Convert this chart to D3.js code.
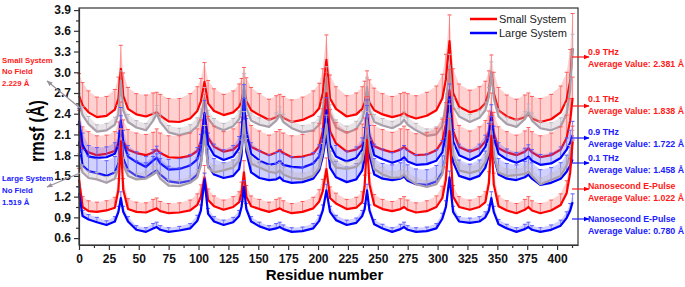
<!DOCTYPE html>
<html>
<head>
<meta charset="utf-8">
<script src="https://cdn.jsdelivr.net/npm/d3@7"></script>
<style>
  body { margin: 0; background: #fff; }
  svg text { font-family: Arial, "Liberation Sans", sans-serif; }
</style>
</head>
<body>
<div id="wrapper"></div>
<script>
const residues = [
  0, 3, 8, 15, 23, 30, 33, 35, 37, 41, 48, 56, 62, 65, 68, 75, 84, 93, 99, 102, 105,
  108, 113, 121, 129, 134, 136, 138, 140, 144, 151, 159, 165, 168, 171, 178, 187, 196, 201, 204, 207,
  210, 215, 224, 232, 237, 239, 241, 243, 247, 254, 262, 269, 272, 275, 282, 291, 299, 304, 307, 310,
  313, 318, 327, 335, 340, 343, 345, 347, 351, 358, 366, 373, 376, 379, 386, 395, 403, 408, 411, 413,
];

// small system, 0.9 THz
const small09 = [
  2.66, 2.52, 2.42, 2.35, 2.37, 2.46, 2.62, 3.05, 2.66, 2.47, 2.39, 2.36, 2.40, 2.42, 2.37, 2.29, 2.28, 2.33, 2.44, 2.58, 2.86,
  2.55, 2.44, 2.38, 2.42, 2.50, 2.58, 2.75, 2.58, 2.45, 2.38, 2.31, 2.35, 2.38, 2.34, 2.28, 2.31, 2.38, 2.48, 2.70, 3.18,
  2.62, 2.47, 2.36, 2.39, 2.47, 2.56, 2.72, 2.56, 2.45, 2.39, 2.35, 2.38, 2.41, 2.37, 2.33, 2.37, 2.45, 2.62, 2.90, 3.45,
  2.70, 2.50, 2.42, 2.46, 2.55, 2.72, 3.00, 2.70, 2.45, 2.36, 2.31, 2.35, 2.39, 2.33, 2.28, 2.32, 2.42, 2.60, 2.88, 3.35,
];
const small09Err = [
  0.32, 0.33, 0.31, 0.29, 0.28, 0.29, 0.31, 0.34, 0.33, 0.31, 0.30, 0.31, 0.30, 0.29, 0.31, 0.33, 0.34, 0.36, 0.35, 0.33, 0.28,
  0.33, 0.32, 0.30, 0.31, 0.33, 0.33, 0.32, 0.34, 0.33, 0.31, 0.30, 0.31, 0.30, 0.31, 0.32, 0.33, 0.35, 0.36, 0.35, 0.36,
  0.34, 0.32, 0.30, 0.31, 0.32, 0.31, 0.30, 0.33, 0.32, 0.30, 0.30, 0.31, 0.30, 0.32, 0.33, 0.34, 0.35, 0.35, 0.36, 0.38,
  0.35, 0.33, 0.32, 0.33, 0.32, 0.30, 0.25, 0.30, 0.33, 0.31, 0.30, 0.32, 0.31, 0.32, 0.34, 0.36, 0.38, 0.40, 0.45, 0.50,
];

// small system, no field
const smallNoField = [
  2.55, 2.38, 2.25, 2.14, 2.16, 2.24, 2.40, 2.88, 2.45, 2.28, 2.20, 2.16, 2.30, 2.40, 2.28, 2.13, 2.09, 2.13, 2.22, 2.35, 2.64,
  2.33, 2.22, 2.16, 2.22, 2.32, 2.45, 2.84, 2.48, 2.30, 2.24, 2.21, 2.30, 2.38, 2.28, 2.19, 2.13, 2.16, 2.24, 2.45, 2.93,
  2.40, 2.20, 2.12, 2.18, 2.31, 2.45, 2.79, 2.45, 2.28, 2.23, 2.19, 2.25, 2.31, 2.24, 2.16, 2.08, 2.10, 2.22, 2.55, 3.10,
  2.50, 2.36, 2.28, 2.34, 2.45, 2.65, 3.00, 2.62, 2.36, 2.25, 2.21, 2.32, 2.42, 2.30, 2.19, 2.16, 2.22, 2.40, 2.75, 3.35,
];
const smallNoFieldErr = [
  0.14, 0.12, 0.11, 0.10, 0.10, 0.11, 0.12, 0.14, 0.12, 0.11, 0.10, 0.10, 0.11, 0.12, 0.11, 0.10, 0.10, 0.11, 0.12, 0.12, 0.14,
  0.12, 0.11, 0.10, 0.11, 0.12, 0.12, 0.14, 0.12, 0.11, 0.10, 0.10, 0.11, 0.12, 0.11, 0.10, 0.10, 0.11, 0.12, 0.13, 0.15,
  0.13, 0.11, 0.10, 0.11, 0.12, 0.12, 0.13, 0.12, 0.11, 0.10, 0.10, 0.11, 0.12, 0.11, 0.10, 0.10, 0.11, 0.12, 0.14, 0.16,
  0.13, 0.12, 0.11, 0.11, 0.12, 0.13, 0.15, 0.12, 0.11, 0.10, 0.10, 0.11, 0.12, 0.11, 0.10, 0.11, 0.12, 0.14, 0.17, 0.20,
];

// small system, 0.1 THz
const small01 = [
  2.15, 1.90, 1.84, 1.80, 1.82, 1.86, 1.98, 2.25, 2.00, 1.88, 1.83, 1.80, 1.84, 1.88, 1.83, 1.77, 1.76, 1.79, 1.86, 2.00, 2.40,
  2.05, 1.92, 1.85, 1.88, 1.96, 2.05, 2.26, 2.05, 1.92, 1.86, 1.80, 1.84, 1.87, 1.83, 1.77, 1.78, 1.82, 1.93, 2.15, 2.70,
  2.15, 1.97, 1.85, 1.88, 1.95, 2.05, 2.35, 2.08, 1.93, 1.88, 1.84, 1.88, 1.92, 1.87, 1.80, 1.81, 1.87, 2.00, 2.25, 2.74,
  2.15, 1.92, 1.85, 1.90, 2.00, 2.15, 2.42, 2.12, 1.90, 1.84, 1.80, 1.85, 1.90, 1.84, 1.77, 1.80, 1.88, 2.05, 2.30, 2.63,
];
const small01Err = [
  0.30, 0.31, 0.30, 0.28, 0.27, 0.28, 0.30, 0.32, 0.31, 0.29, 0.29, 0.30, 0.29, 0.30, 0.29, 0.31, 0.32, 0.33, 0.32, 0.31, 0.28,
  0.31, 0.30, 0.29, 0.30, 0.31, 0.30, 0.31, 0.32, 0.31, 0.29, 0.29, 0.30, 0.30, 0.29, 0.31, 0.32, 0.33, 0.33, 0.32, 0.30,
  0.31, 0.30, 0.29, 0.30, 0.30, 0.29, 0.30, 0.31, 0.30, 0.29, 0.29, 0.30, 0.30, 0.30, 0.31, 0.32, 0.32, 0.32, 0.31, 0.30,
  0.32, 0.31, 0.30, 0.31, 0.30, 0.29, 0.28, 0.30, 0.31, 0.30, 0.29, 0.30, 0.30, 0.30, 0.31, 0.32, 0.33, 0.33, 0.32, 0.30,
];

// large system, 0.9 THz
const large09 = [
  2.30, 1.95, 1.78, 1.76, 1.77, 1.82, 1.95, 2.30, 1.98, 1.78, 1.70, 1.63, 1.72, 1.76, 1.68, 1.59, 1.60, 1.65, 1.74, 1.92, 2.41,
  1.95, 1.80, 1.73, 1.78, 1.90, 2.10, 2.62, 2.15, 1.82, 1.72, 1.66, 1.68, 1.71, 1.66, 1.63, 1.62, 1.68, 1.78, 2.00, 2.45,
  1.95, 1.78, 1.71, 1.76, 1.88, 2.02, 2.41, 2.05, 1.80, 1.74, 1.69, 1.73, 1.77, 1.71, 1.66, 1.67, 1.72, 1.84, 2.10, 2.64,
  2.00, 1.80, 1.73, 1.80, 1.92, 2.08, 2.34, 2.05, 1.82, 1.74, 1.69, 1.74, 1.78, 1.72, 1.66, 1.68, 1.76, 1.88, 1.98, 2.09,
];
const large09Err = [
  0.18, 0.17, 0.16, 0.15, 0.15, 0.16, 0.17, 0.19, 0.18, 0.16, 0.15, 0.15, 0.16, 0.17, 0.16, 0.15, 0.15, 0.16, 0.17, 0.18, 0.18,
  0.17, 0.16, 0.15, 0.16, 0.17, 0.18, 0.20, 0.18, 0.16, 0.15, 0.15, 0.16, 0.17, 0.16, 0.15, 0.15, 0.16, 0.17, 0.18, 0.18,
  0.17, 0.16, 0.15, 0.16, 0.17, 0.18, 0.19, 0.18, 0.16, 0.15, 0.15, 0.16, 0.17, 0.16, 0.15, 0.15, 0.16, 0.17, 0.18, 0.19,
  0.17, 0.16, 0.15, 0.16, 0.17, 0.18, 0.19, 0.17, 0.16, 0.15, 0.15, 0.16, 0.17, 0.16, 0.15, 0.15, 0.16, 0.17, 0.18, 0.20,
];

// large system, 0.1 THz
const large01 = [
  2.00, 1.65, 1.57, 1.54, 1.50, 1.55, 1.68, 2.10, 1.75, 1.58, 1.50, 1.47, 1.55, 1.58, 1.52, 1.42, 1.40, 1.43, 1.52, 1.70, 2.15,
  1.65, 1.52, 1.47, 1.50, 1.60, 1.80, 2.35, 1.85, 1.55, 1.47, 1.44, 1.45, 1.48, 1.43, 1.40, 1.41, 1.46, 1.58, 1.78, 2.10,
  1.62, 1.48, 1.41, 1.45, 1.58, 1.75, 2.25, 1.80, 1.52, 1.46, 1.44, 1.46, 1.49, 1.43, 1.38, 1.37, 1.42, 1.55, 1.80, 2.35,
  1.70, 1.50, 1.45, 1.50, 1.62, 1.80, 2.10, 1.78, 1.52, 1.46, 1.44, 1.48, 1.52, 1.46, 1.37, 1.40, 1.46, 1.56, 1.65, 1.74,
];
const large01Err = [
  0.25, 0.23, 0.22, 0.21, 0.22, 0.23, 0.25, 0.27, 0.25, 0.23, 0.22, 0.22, 0.23, 0.24, 0.23, 0.22, 0.22, 0.23, 0.24, 0.25, 0.25,
  0.24, 0.23, 0.22, 0.23, 0.24, 0.25, 0.27, 0.25, 0.23, 0.22, 0.22, 0.23, 0.24, 0.23, 0.22, 0.22, 0.23, 0.24, 0.25, 0.25,
  0.24, 0.23, 0.22, 0.23, 0.24, 0.25, 0.27, 0.25, 0.23, 0.22, 0.22, 0.23, 0.24, 0.23, 0.22, 0.22, 0.23, 0.24, 0.25, 0.26,
  0.24, 0.23, 0.22, 0.23, 0.24, 0.25, 0.26, 0.25, 0.23, 0.22, 0.22, 0.23, 0.24, 0.23, 0.22, 0.22, 0.23, 0.24, 0.26, 0.28,
];

// large system, no field
const largeNoField = [
  1.70, 1.55, 1.47, 1.45, 1.40, 1.46, 1.60, 2.05, 1.65, 1.50, 1.45, 1.46, 1.52, 1.56, 1.46, 1.36, 1.35, 1.40, 1.48, 1.65, 2.10,
  1.62, 1.55, 1.58, 1.62, 1.72, 1.90, 2.30, 1.92, 1.68, 1.62, 1.56, 1.54, 1.58, 1.52, 1.47, 1.45, 1.50, 1.62, 1.85, 2.25,
  1.75, 1.62, 1.60, 1.63, 1.72, 1.90, 2.30, 1.90, 1.60, 1.52, 1.47, 1.48, 1.52, 1.46, 1.38, 1.34, 1.38, 1.52, 1.78, 2.40,
  1.80, 1.58, 1.54, 1.58, 1.70, 1.85, 2.15, 1.80, 1.55, 1.50, 1.51, 1.53, 1.56, 1.50, 1.38, 1.44, 1.50, 1.65, 1.80, 2.00,
];
const largeNoFieldErr = [
  0.12, 0.11, 0.10, 0.10, 0.09, 0.10, 0.11, 0.13, 0.11, 0.10, 0.09, 0.10, 0.11, 0.11, 0.10, 0.09, 0.09, 0.10, 0.11, 0.12, 0.13,
  0.11, 0.10, 0.10, 0.10, 0.11, 0.12, 0.13, 0.12, 0.10, 0.10, 0.09, 0.10, 0.11, 0.10, 0.09, 0.09, 0.10, 0.11, 0.12, 0.13,
  0.12, 0.11, 0.10, 0.10, 0.11, 0.12, 0.13, 0.12, 0.10, 0.10, 0.09, 0.10, 0.11, 0.10, 0.09, 0.09, 0.10, 0.11, 0.12, 0.14,
  0.12, 0.11, 0.10, 0.10, 0.11, 0.12, 0.13, 0.11, 0.10, 0.10, 0.09, 0.10, 0.11, 0.10, 0.09, 0.10, 0.11, 0.12, 0.14, 0.16,
];

// small system, nanosecond E-pulse
const smallPulse = [
  1.45, 1.05, 0.99, 0.98, 1.00, 1.04, 1.30, 2.00, 1.30, 1.02, 0.98, 0.97, 1.01, 1.03, 0.99, 0.96, 0.97, 1.00, 1.08, 1.20, 1.48,
  1.15, 1.06, 1.01, 1.05, 1.12, 1.25, 1.55, 1.20, 1.06, 1.02, 0.98, 1.01, 1.03, 1.00, 0.96, 0.98, 1.03, 1.13, 1.28, 1.60,
  1.18, 1.10, 1.02, 1.04, 1.12, 1.35, 2.02, 1.38, 1.08, 1.02, 0.99, 1.02, 1.05, 1.01, 0.97, 0.99, 1.05, 1.18, 1.45, 2.15,
  1.20, 1.05, 1.01, 1.05, 1.12, 1.40, 2.08, 1.38, 1.06, 1.00, 0.96, 1.01, 1.05, 1.00, 0.96, 1.00, 1.08, 1.25, 1.55, 2.00,
];
const smallPulseErr = [
  0.16, 0.15, 0.15, 0.14, 0.14, 0.15, 0.16, 0.18, 0.16, 0.15, 0.14, 0.14, 0.15, 0.15, 0.14, 0.14, 0.14, 0.15, 0.16, 0.17, 0.17,
  0.16, 0.15, 0.14, 0.15, 0.15, 0.16, 0.17, 0.16, 0.15, 0.14, 0.14, 0.15, 0.15, 0.14, 0.14, 0.15, 0.16, 0.17, 0.17, 0.16,
  0.16, 0.15, 0.14, 0.15, 0.15, 0.16, 0.17, 0.16, 0.15, 0.14, 0.14, 0.15, 0.15, 0.14, 0.14, 0.15, 0.16, 0.17, 0.18, 0.18,
  0.16, 0.15, 0.14, 0.15, 0.15, 0.16, 0.17, 0.16, 0.15, 0.14, 0.14, 0.15, 0.15, 0.14, 0.14, 0.15, 0.16, 0.18, 0.20, 0.22,
];

// large system, nanosecond E-pulse
const largePulse = [
  1.25, 0.92, 0.87, 0.83, 0.79, 0.84, 0.98, 1.18, 0.98, 0.84, 0.72, 0.69, 0.74, 0.76, 0.72, 0.69, 0.71, 0.74, 0.85, 1.00, 1.45,
  0.95, 0.84, 0.79, 0.83, 0.92, 1.05, 1.34, 1.02, 0.84, 0.77, 0.72, 0.74, 0.76, 0.73, 0.69, 0.70, 0.74, 0.85, 1.00, 1.29,
  0.98, 0.86, 0.79, 0.82, 0.92, 1.02, 1.29, 1.00, 0.80, 0.74, 0.69, 0.73, 0.76, 0.72, 0.69, 0.70, 0.74, 0.88, 1.05, 1.48,
  0.98, 0.84, 0.82, 0.84, 0.90, 1.00, 1.18, 0.98, 0.80, 0.74, 0.69, 0.73, 0.76, 0.72, 0.69, 0.72, 0.78, 0.89, 1.00, 1.12,
];
const largePulseErr = [
  0.09, 0.08, 0.07, 0.07, 0.06, 0.07, 0.08, 0.09, 0.08, 0.07, 0.06, 0.06, 0.07, 0.07, 0.06, 0.06, 0.06, 0.07, 0.08, 0.08, 0.09,
  0.08, 0.07, 0.07, 0.07, 0.08, 0.08, 0.09, 0.08, 0.07, 0.06, 0.06, 0.07, 0.07, 0.06, 0.06, 0.06, 0.07, 0.08, 0.08, 0.09,
  0.08, 0.07, 0.07, 0.07, 0.08, 0.08, 0.09, 0.08, 0.07, 0.06, 0.06, 0.07, 0.07, 0.06, 0.06, 0.06, 0.07, 0.08, 0.09, 0.09,
  0.08, 0.07, 0.07, 0.07, 0.08, 0.08, 0.09, 0.08, 0.07, 0.06, 0.06, 0.07, 0.07, 0.06, 0.06, 0.07, 0.08, 0.09, 0.10, 0.12,
];

// tick values
const xTickValues = d3.range(0, 401, 25);
const yTickLabels = ["0.6", "0.9", "1.2", "1.5", "1.8", "2.1", "2.4", "2.7", "3.0", "3.3", "3.6", "3.9"];

// legend and annotations
const legendLabels = ["Small System", "Large System"];
const leftNotes = [
  ["Small System", "No Field", "2.229 Å"],
  ["Large System", "No Field", "1.519 Å"],
];
const rightNotes = [
  ["0.9 THz", "Average Value: 2.381 Å"],
  ["0.1 THz", "Average Value: 1.838 Å"],
  ["0.9 THz", "Average Value: 1.722 Å"],
  ["0.1 THz", "Average Value: 1.458 Å"],
  ["Nanosecond E-Pulse", "Average Value: 1.022 Å"],
  ["Nanosecond E-Pulse", "Average Value: 0.780 Å"],
];

function drawChart() {
  const RED = "#ff0000";
  const BLUE = "#0000ff";
  const GRAY = "#a99fab";

  // 1. Dimensions

  const dimensions = {
    width: 685,
    height: 287,
    margin: { top: 8, right: 107, bottom: 42, left: 79 },
  };
  dimensions.boundedWidth = dimensions.width - dimensions.margin.left - dimensions.margin.right;
  dimensions.boundedHeight = dimensions.height - dimensions.margin.top - dimensions.margin.bottom;

  // 2. Canvas

  const wrapper = d3.select("#wrapper")
    .append("svg")
      .attr("width", dimensions.width)
      .attr("height", dimensions.height);

  const defs = wrapper.append("defs");
  [["red", RED], ["blue", BLUE], ["gray", "#9a909c"]].forEach(([id, c]) => {
    defs.append("marker")
        .attr("id", "arrow-" + id)
        .attr("viewBox", "0 0 10 10")
        .attr("refX", 9)
        .attr("refY", 5)
        .attr("markerWidth", 5)
        .attr("markerHeight", 5)
        .attr("orient", "auto")
      .append("path")
        .attr("d", "M0,1 L10,5 L0,9 Z")
        .attr("fill", c);
  });

  const bounds = wrapper.append("g")
      .attr("transform", `translate(${dimensions.margin.left}, ${dimensions.margin.top})`);

  // 3. Scales

  const xScale = d3.scaleLinear()
      .domain([0, 417.5])
      .range([0, dimensions.boundedWidth]);

  const yScale = d3.scaleLinear()
      .domain([0.5, 3.93])
      .range([dimensions.boundedHeight, 0]);

  // 4. Series (drawn bottom to top in this order)

  const seriesList = [
    { values: small09, errors: small09Err, line: RED, bar: "#ff5a5a", band: 0.28 },
    { values: smallNoField, errors: smallNoFieldErr, line: GRAY, bar: "#bdb3bd", band: 0.35 },
    { values: small01, errors: small01Err, line: RED, bar: "#ff5a5a", band: 0.28 },
    { values: large09, errors: large09Err, line: BLUE, bar: "#5a5aff", band: 0.28 },
    { values: large01, errors: large01Err, line: BLUE, bar: "#5a5aff", band: 0.28 },
    { values: largeNoField, errors: largeNoFieldErr, line: GRAY, bar: "#bdb3bd", band: 0.35 },
    { values: smallPulse, errors: smallPulseErr, line: RED, bar: "#ff5a5a", band: 0.28 },
    { values: largePulse, errors: largePulseErr, line: BLUE, bar: "#5a5aff", band: 0.28 },
  ];

  const lineGenerator = d3.line()
      .x(d => xScale(d.r))
      .y(d => yScale(d.v));

  const bandGenerator = d3.area()
      .x(d => xScale(d.r))
      .y0(d => yScale(d.v))
      .y1(d => yScale(d.v + d.e));

  seriesList.forEach(s => {
    const points = residues.map((r, i) => ({ r, v: s.values[i], e: s.errors[i] }));
    const g = bounds.append("g");

    g.append("path")
        .datum(points)
        .attr("d", bandGenerator)
        .attr("fill", s.bar)
        .attr("fill-opacity", s.band);

    g.selectAll(".err")
      .data(points)
      .join("line")
        .attr("class", "err")
        .attr("x1", d => xScale(d.r))
        .attr("x2", d => xScale(d.r))
        .attr("y1", d => yScale(d.v))
        .attr("y2", d => yScale(d.v + d.e))
        .attr("stroke", s.bar)
        .attr("stroke-opacity", 0.7)
        .attr("stroke-width", 1);

    g.selectAll(".cap")
      .data(points)
      .join("line")
        .attr("class", "cap")
        .attr("x1", d => xScale(d.r) - 2)
        .attr("x2", d => xScale(d.r) + 2)
        .attr("y1", d => yScale(d.v + d.e))
        .attr("y2", d => yScale(d.v + d.e))
        .attr("stroke", s.bar)
        .attr("stroke-width", 1);

    g.append("path")
        .datum(points)
        .attr("d", lineGenerator)
        .attr("fill", "none")
        .attr("stroke", s.line)
        .attr("stroke-width", 2.2)
        .attr("stroke-linejoin", "round");
  });

  // 5. Axes and frame

  bounds.append("rect")
      .attr("width", dimensions.boundedWidth)
      .attr("height", dimensions.boundedHeight)
      .attr("fill", "none")
      .attr("stroke", "#333")
      .attr("stroke-width", 1.2);

  const xAxis = bounds.append("g")
      .attr("transform", `translate(0, ${dimensions.boundedHeight})`)
      .call(d3.axisBottom(xScale).tickValues(xTickValues).tickSize(5).tickPadding(4).tickSizeOuter(0));

  bounds.append("g")
      .attr("transform", `translate(0, ${dimensions.boundedHeight})`)
      .call(d3.axisBottom(xScale).tickValues(xTickValues.map(d => d + 12.5)).tickSize(3).tickFormat("").tickSizeOuter(0))
      .call(g => g.select(".domain").remove());

  const yTickValues = yTickLabels.map(Number);
  const yAxis = bounds.append("g")
      .call(d3.axisLeft(yScale).tickValues(yTickValues).tickSize(5).tickPadding(3)
        .tickFormat((d, i) => yTickLabels[i]).tickSizeOuter(0));

  bounds.append("g")
      .call(d3.axisLeft(yScale).tickValues(yTickValues.slice(0, -1).map(d => d + 0.15)).tickSize(3).tickFormat("").tickSizeOuter(0))
      .call(g => g.select(".domain").remove());

  bounds.selectAll(".domain, .tick line").attr("stroke", "#333").attr("stroke-width", 1.2);

  [xAxis, yAxis].forEach(a => a.selectAll("text")
      .attr("font-size", 12)
      .attr("font-weight", "bold")
      .attr("fill", "#111"));

  bounds.append("text")
      .attr("x", dimensions.boundedWidth / 2 - 4)
      .attr("y", dimensions.boundedHeight + 35)
      .attr("text-anchor", "middle")
      .attr("font-size", 15)
      .attr("font-weight", "bold")
      .text("Residue number");

  wrapper.append("text")
      .attr("transform", "translate(44, 131) rotate(-90)")
      .attr("text-anchor", "middle")
      .attr("font-size", 21)
      .attr("font-weight", "bold")
      .attr("textLength", 62)
      .attr("lengthAdjust", "spacingAndGlyphs")
      .text("rmsf (Å)");

  // 6. Legend

  const legend = wrapper.append("g").attr("transform", "translate(470, 19)");
  legendLabels.forEach((label, i) => {
    const row = legend.append("g").attr("transform", `translate(0, ${i * 14})`);
    row.append("line")
        .attr("x2", 27)
        .attr("stroke", i === 0 ? RED : BLUE)
        .attr("stroke-width", 2.5);
    row.append("text")
        .attr("x", 29)
        .attr("dy", "0.35em")
        .attr("font-size", 11)
        .attr("fill", "#222")
        .text(label);
  });

  // 7. Annotations

  const leftLayout = [
    { color: "#ff1a1a", y: 62.5, from: [80, 108], to: [47, 81] },
    { color: "#2020ff", y: 181, from: [80, 173], to: [47, 187] },
  ];
  leftNotes.forEach((lines, k) => {
    const lay = leftLayout[k];
    wrapper.append("line")
        .attr("x1", lay.from[0]).attr("y1", lay.from[1])
        .attr("x2", lay.to[0]).attr("y2", lay.to[1])
        .attr("stroke", "#9a909c")
        .attr("stroke-width", 1.2)
        .attr("marker-end", "url(#arrow-gray)");
    lines.forEach((t, j) => {
      wrapper.append("text")
          .attr("x", 2)
          .attr("y", lay.y + j * 11.8)
          .attr("font-size", 7.8)
          .attr("font-weight", "bold")
          .attr("fill", lay.color)
          .text(t);
    });
  });

  const rightLayout = [
    { color: "#ff1a1a", marker: "red", y: 52, arrowY: 57 },
    { color: "#ff1a1a", marker: "red", y: 99, arrowY: 106 },
    { color: "#2020ff", marker: "blue", y: 132, arrowY: 138 },
    { color: "#2020ff", marker: "blue", y: 158, arrowY: 163 },
    { color: "#ff1a1a", marker: "red", y: 186, arrowY: 189 },
    { color: "#2020ff", marker: "blue", y: 219, arrowY: 219 },
  ];
  rightNotes.forEach((lines, k) => {
    const lay = rightLayout[k];
    wrapper.append("line")
        .attr("x1", 572).attr("y1", lay.arrowY)
        .attr("x2", 589).attr("y2", lay.arrowY)
        .attr("stroke", lay.color)
        .attr("stroke-width", 1.2)
        .attr("marker-end", `url(#arrow-${lay.marker})`);
    lines.forEach((t, j) => {
      wrapper.append("text")
          .attr("x", 588)
          .attr("y", lay.y + 3 + j * 11.5)
          .attr("font-size", 8.8)
          .attr("font-weight", "bold")
          .attr("fill", lay.color)
          .text(t);
    });
  });
}
drawChart();
</script>
</body>
</html>
